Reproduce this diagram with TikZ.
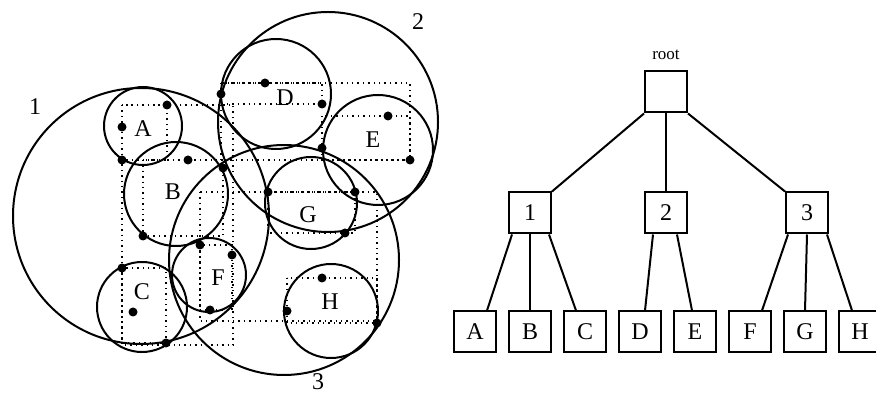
\documentclass[tikz,border=0pt]{standalone}
\usepackage{fontspec}
\setmainfont{Liberation Serif}
\usetikzlibrary{positioning, calc}

\begin{document}
\begin{tikzpicture}[
    x=0.5pt, y=-0.5pt,
    sphere/.style={draw=black, line width=1pt},
    mbr/.style={draw=black, dotted, line width=0.7pt},
    tnode/.style={rectangle, draw=black, line width=1pt, minimum width=21pt, minimum height=20.5pt, inner sep=0pt, font=\fontsize{12}{14}\selectfont},
    tag/.style={font=\fontsize{12}{14}\selectfont}
]
\useasboundingbox (0,0) rectangle (876,394);

% Bounding rectangles of the upper level
\draw[mbr] (122,105) rectangle (233,345);
\draw[mbr] (221,83) rectangle (410,160);
\draw[mbr] (200,192) rectangle (377,321);

% Bounding rectangles of the leaves
\draw[mbr] (122,105) rectangle (167,160);
\draw[mbr] (143,160) rectangle (223,236);
\draw[mbr] (122,268) rectangle (166,343);
\draw[mbr] (221,83) rectangle (322,104);
\draw[mbr] (322,116) rectangle (410,160);
\draw[mbr] (200,245) rectangle (232,310);
\draw[mbr] (268,192) rectangle (355,233);
\draw[mbr] (287,278) rectangle (377,323);

% Bounding spheres of the upper level
\draw[sphere] (141,216) circle (128);
\draw[sphere] (328,122) circle (110);
\draw[sphere] (284,260) circle (115);

% Bounding spheres of the leaves
\draw[sphere] (143,126) circle (39);
\draw[sphere] (176,194) circle (52);
\draw[sphere] (142,307) circle (45);
\draw[sphere] (276,94) circle (55);
\draw[sphere] (378,150) circle (55);
\draw[sphere] (209,275) circle (37);
\draw[sphere] (311,203) circle (46);
\draw[sphere] (331,311) circle (47);

% Data points
\fill (122,127) circle (4.5); \fill (167,105) circle (4.5); \fill (122,160) circle (4.5);
\fill (188,160) circle (4.5); \fill (143,236) circle (4.5); \fill (223,168) circle (4.5);
\fill (122,268) circle (4.5); \fill (133,312) circle (4.5); \fill (166,343) circle (4.5);
\fill (265,83) circle (4.5); \fill (322,104) circle (4.5); \fill (221,94) circle (4.5);
\fill (388,116) circle (4.5); \fill (410,160) circle (4.5); \fill (322,148) circle (4.5);
\fill (200,245) circle (4.5); \fill (232,255) circle (4.5); \fill (210,310) circle (4.5);
\fill (268,192) circle (4.5); \fill (355,192) circle (4.5); \fill (345,233) circle (4.5);
\fill (322,278) circle (4.5); \fill (287,311) circle (4.5); \fill (377,323) circle (4.5);

% Region labels
\node[tag] (labA) at (143,129) {A};
\node[tag] (labB) at (173,192) {B};
\node[tag] (labC) at (142,292) {C};
\node[tag] (labD) at (285,98) {D};
\node[tag] (labE) at (373,140) {E};
\node[tag] (labF) at (218,278) {F};
\node[tag] (labG) at (308,215) {G};
\node[tag] (labH) at (330,302) {H};
\node[tag] (lab1) at (35,107) {1};
\node[tag] (lab2) at (418,22) {2};
\node[tag] (lab3) at (318,382) {3};

% Tree
\node[tnode] (root) at (666,92) {};
\node[font=\fontsize{8.5}{10}\selectfont, above=2pt of root] (rootlab) {root};
\node[tnode] (one) at (530,213) {1};
\node[tnode] (two) at (666,213) {2};
\node[tnode] (three) at (807,213) {3};

\node[tnode] (lA) at (475,332) {A};
\node[tnode, right=5.5pt of lA] (lB) {B};
\node[tnode, right=5.5pt of lB] (lC) {C};
\node[tnode, right=5.5pt of lC] (lD) {D};
\node[tnode, right=5.5pt of lD] (lE) {E};
\node[tnode, right=5.5pt of lE] (lF) {F};
\node[tnode, right=5.5pt of lF] (lG) {G};
\node[tnode, right=5.5pt of lG] (lH) {H};

\draw[line width=1pt] (root.south west) -- (one.north east);
\draw[line width=1pt] (root.south) -- (two.north);
\draw[line width=1pt] (root.south east) -- (three.north west);

\draw[line width=1pt] ([xshift=2pt]one.south west) -- ([xshift=-5pt]lA.north east);
\draw[line width=1pt] (one.south) -- (lB.north);
\draw[line width=1pt] ([xshift=-1.5pt]one.south east) -- ([xshift=6.5pt]lC.north west);

\draw[line width=1pt] ([xshift=4.5pt]two.south west) -- ([xshift=2.5pt]lD.north);
\draw[line width=1pt] ([xshift=-5.5pt]two.south east) -- ([xshift=-1.5pt]lE.north);

\draw[line width=1pt] ([xshift=1.5pt]three.south west) -- ([xshift=-5pt]lF.north east);
\draw[line width=1pt] (three.south) -- (lG.north);
\draw[line width=1pt] ([xshift=-1pt]three.south east) -- ([xshift=7pt]lH.north west);

\end{tikzpicture}
\end{document}
